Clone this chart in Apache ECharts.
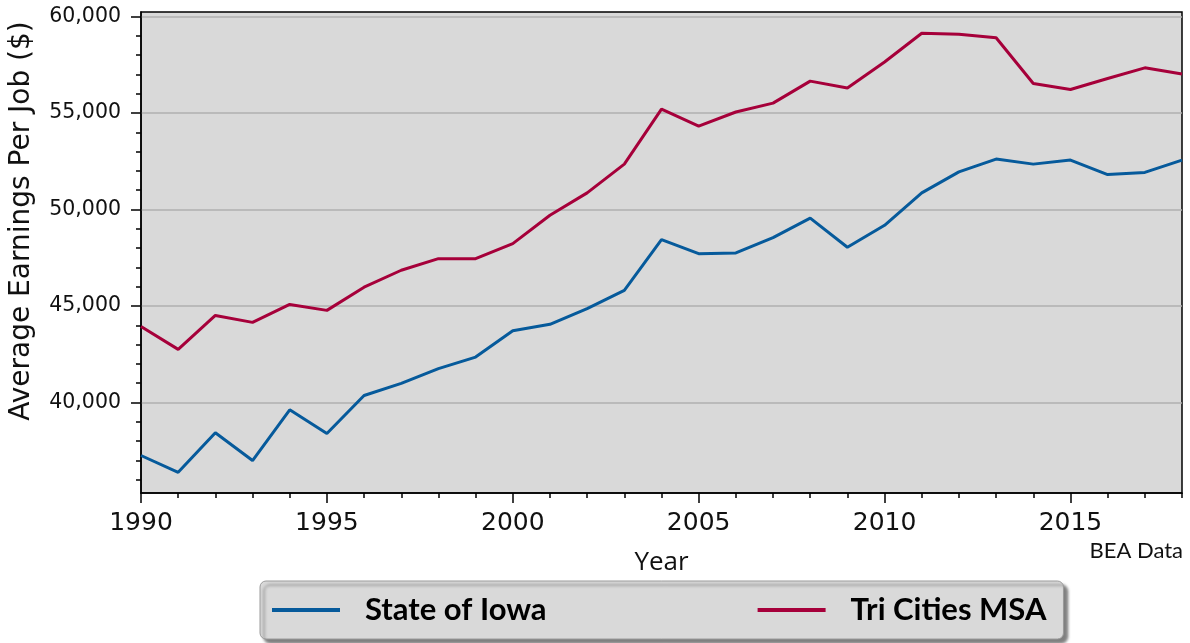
<!DOCTYPE html>
<html>
<head>
<meta charset="utf-8">
<script src="https://cdn.jsdelivr.net/npm/echarts@6/dist/echarts.min.js"></script>
<style>
  html, body { margin: 0; padding: 0; background: #fff; }
  #chart { width: 1190px; height: 643px; }
</style>
</head>
<body>
<div id="chart"></div>
<script>
var years = [1990, 1991, 1992, 1993, 1994, 1995, 1996, 1997, 1998, 1999,
             2000, 2001, 2002, 2003, 2004, 2005, 2006, 2007, 2008, 2009,
             2010, 2011, 2012, 2013, 2014, 2015, 2016, 2017, 2018];
var iowa = [37250, 36380, 38430, 36990, 39620, 38390, 40360, 40990, 41750, 42350,
            43720, 44050, 44860, 45810, 48440, 47710, 47750, 48540, 49550, 48040,
            49180, 50860, 51950, 52610, 52350, 52560, 51810, 51920, 52560];
var triCities = [43940, 42750, 44510, 44150, 45080, 44770, 45970, 46850, 47450, 47450,
                 48230, 49700, 50860, 52350, 55200, 54320, 55050, 55510, 56650, 56290,
                 57640, 59130, 59080, 58900, 56530, 56220, 56790, 57340, 57020];
var yTicks = [40000, 45000, 50000, 55000, 60000];
var yMinor = [36000, 37000, 38000, 39000, 41000, 42000, 43000, 44000, 46000, 47000, 48000, 49000,
              51000, 52000, 53000, 54000, 56000, 57000, 58000, 59000];
var xTicks = [1990, 1995, 2000, 2005, 2010, 2015];

function pairs(vals) {
    return years.map(function (y, i) { return [y, vals[i]]; });
}

var chart = echarts.init(document.getElementById('chart'));
var yMin = 35307, yMax = 60233;

var option = {
    animation: false,
    grid: {
        left: 141, right: 8, top: 12, bottom: 150,
        show: true,
        backgroundColor: '#d9d9d9',
        borderColor: '#000',
        borderWidth: 1.5
    },
    xAxis: [{
        type: 'value',
        min: 1990, max: 2018,
        name: 'Year',
        nameLocation: 'middle',
        nameGap: 57,
        nameTextStyle: { fontFamily: 'Open Sans', fontSize: 26, color: '#111' },
        axisLine: { show: true, lineStyle: { color: '#000', width: 1.5 } },
        axisTick: { show: true, length: 10, customValues: xTicks, lineStyle: { color: '#000', width: 1.5 } },
        axisLabel: {
            customValues: xTicks, fontFamily: 'DejaVu Sans', fontSize: 25, color: '#111', margin: 18,
            formatter: function (v) { return String(v); }
        },
        splitLine: { show: false }
    }, {
        type: 'value',
        min: 1990, max: 2018,
        position: 'bottom',
        axisLine: { show: false },
        axisTick: { show: true, length: 5, customValues: years, lineStyle: { color: '#000', width: 1.5 } },
        axisLabel: { show: false },
        splitLine: { show: false }
    }],
    yAxis: [{
        type: 'value',
        min: yMin, max: yMax,
        axisLine: { show: true, lineStyle: { color: '#000', width: 1.5 } },
        axisTick: { show: true, length: 10, customValues: yTicks, lineStyle: { color: '#000', width: 1.5 } },
        axisLabel: {
            customValues: yTicks, fontFamily: 'DejaVu Sans', fontSize: 20.5, color: '#111', margin: 20,
            formatter: function (v) { return v.toLocaleString('en-US'); }
        },
        splitLine: { show: true, lineStyle: { color: '#afafaf', width: 1.5 } }
    }, {
        type: 'value',
        min: yMin, max: yMax,
        position: 'left',
        axisLine: { show: false },
        axisTick: { show: true, length: 5, customValues: yMinor, lineStyle: { color: '#000', width: 1.5 } },
        axisLabel: { show: false },
        splitLine: { show: false }
    }],
    legend: {
        left: 260, top: 581,
        itemWidth: 68, itemHeight: 4,
        itemGap: 211,
        padding: [12, 17, 12, 12],
        backgroundColor: '#d9d9d9',
        borderColor: '#9a9a9a',
        borderWidth: 1,
        borderRadius: 6,
        shadowColor: 'rgba(0,0,0,0.5)',
        shadowBlur: 3,
        shadowOffsetX: 4,
        shadowOffsetY: 4,
        icon: 'rect',
        textStyle: {
            fontFamily: 'Lato', fontWeight: 'bold', fontSize: 31, color: '#000',
            lineHeight: 34,
            padding: [0, 0, 0, 20]
        },
        data: ['State of Iowa', 'Tri Cities MSA']
    },
    graphic: [{
        type: 'text',
        x: 22, y: 221,
        rotation: Math.PI / 2,
        style: {
            text: 'Average Earnings Per Job ($)',
            fontFamily: 'DejaVu Sans', fontSize: 28, fill: '#111',
            textAlign: 'center', textVerticalAlign: 'middle'
        }
    }, {
        type: 'text',
        right: 7, top: 540,
        style: { text: 'BEA Data', fontFamily: 'Lato', fontSize: 22, fill: '#111' }
    }],
    series: [{
        name: 'State of Iowa',
        type: 'line',
        data: pairs(iowa),
        showSymbol: false,
        lineStyle: { color: '#065a9b', width: 3 },
        itemStyle: { color: '#065a9b' }
    }, {
        name: 'Tri Cities MSA',
        type: 'line',
        data: pairs(triCities),
        showSymbol: false,
        lineStyle: { color: '#a6003a', width: 3 },
        itemStyle: { color: '#a6003a' }
    }]
};

chart.setOption(option);
</script>
</body>
</html>
